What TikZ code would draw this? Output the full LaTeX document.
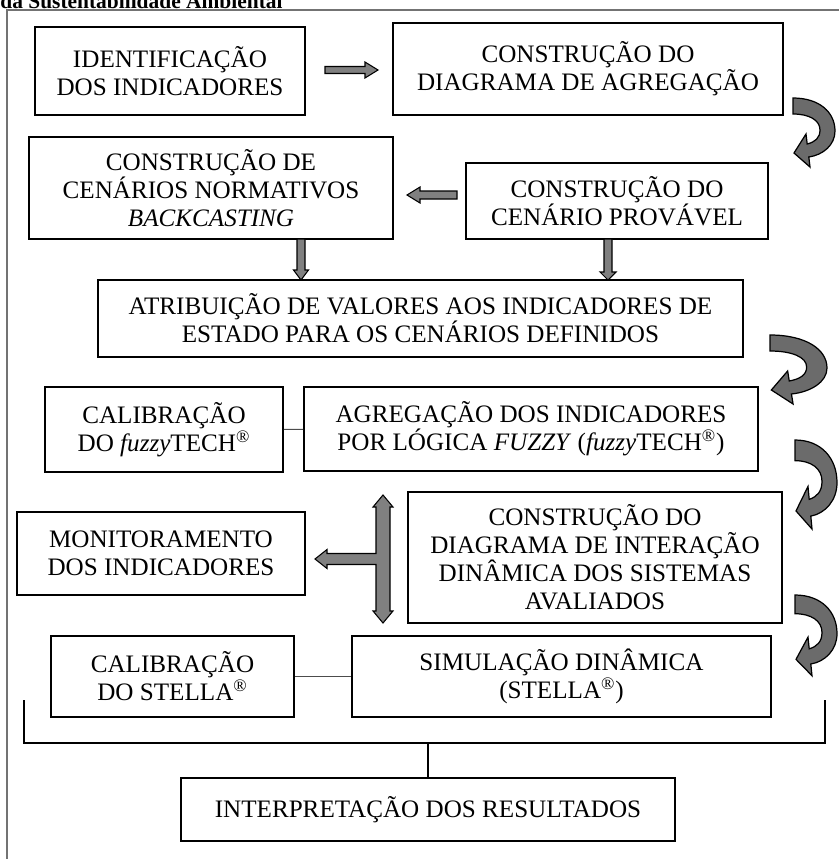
\documentclass[tikz,border=0pt]{standalone}
\usepackage{fontspec}
\setmainfont{Liberation Serif}

\begin{document}
\begin{tikzpicture}[
	x=0.02cm, y=-0.02cm,
	font=\fontsize{14.3}{16}\selectfont,
	box/.style={
		rectangle,
		draw,
		line width=1pt,
		align=center,
		inner sep=0pt,
	},
	link/.style={% thin lines between calibration boxes
		line width=0.5pt,
		draw=black!70,
	},
	blockarrow/.style={
		fill=black!50,
		draw=black,
		line width=0.6pt,
	},
	bendarrow/.style={
		fill=black!58,
		draw=black,
		line width=0.7pt,
	},
	bracket/.style={
		line width=1.6pt,
	},
	bend/.pic={
		\filldraw[bendarrow] (0,0) .. controls (26,0) and (42,14) .. (42,33)
			.. controls (42,47) and (30,57) .. (15.8,59) -- (17,69) -- (1,55) -- (13,36)
			-- (14.2,46) .. controls (22,44) and (27,40) .. (27,32)
			.. controls (27,22) and (16,16) .. (0,16) -- cycle;
	},
]
	\useasboundingbox (0,0) rectangle (839,859);

	% frame and title
	\node [anchor=base west, inner sep=0pt, font=\bfseries\fontsize{12.2}{14}\selectfont] (title) at (0,8) {da Sustentabilidade Ambiental};
	\draw [draw=black!55, line width=1pt] (7,859) -- (7,10) -- (839,10);

	\node [box, minimum width=5.4cm, minimum height=1.76cm] (ident) at (170,71) {IDENTIFICAÇÃO\\DOS INDICADORES};
	\node [box, minimum width=7.8cm, minimum height=1.84cm] (diag) at (588,69) {CONSTRUÇÃO DO\\DIAGRAMA DE AGREGAÇÃO};
	\node [box, minimum width=7.28cm, minimum height=2.04cm] (norm) at (211,188) {CONSTRUÇÃO DE\\CENÁRIOS NORMATIVOS\\\textit{BACKCASTING}};
	\node [box, minimum width=6.04cm, minimum height=1.52cm] (prov) at (617,201) {CONSTRUÇÃO DO\\CENÁRIO PROVÁVEL};
	\node [box, minimum width=12.9cm, minimum height=1.54cm] (atrib) at (420.5,318.5) {ATRIBUIÇÃO DE VALORES AOS INDICADORES DE\\ESTADO PARA OS CENÁRIOS DEFINIDOS};
	\node [box, minimum width=4.76cm, minimum height=1.7cm] (calfz) at (164,429.5) {CALIBRAÇÃO\\DO \textit{fuzzy}TECH\textsuperscript{®}};
	\node [box, minimum width=9.08cm, minimum height=1.68cm] (agreg) at (531,429) {AGREGAÇÃO DOS INDICADORES\\POR LÓGICA \textit{FUZZY} (\textit{fuzzy}TECH\textsuperscript{®})};
	\node [box, minimum width=5.76cm, minimum height=1.66cm] (monit) at (161,553.5) {MONITORAMENTO\\DOS INDICADORES};
	\node [box, minimum width=7.48cm, minimum height=2.62cm] (inter) at (595,557.5) {CONSTRUÇÃO DO\\DIAGRAMA DE INTERAÇÃO\\DINÂMICA DOS SISTEMAS\\AVALIADOS};
	\node [box, minimum width=4.86cm, minimum height=1.62cm] (calst) at (172.5,676.5) {CALIBRAÇÃO\\DO STELLA\textsuperscript{®}};
	\node [box, minimum width=8.38cm, minimum height=1.62cm] (simul) at (561.5,676.5) {SIMULAÇÃO DINÂMICA\\(STELLA\textsuperscript{®})};
	\node [box, minimum width=9.88cm, minimum height=1.26cm] (result) at (428,809.5) {INTERPRETAÇÃO DOS RESULTADOS};

	\draw [link] (calfz) -- (agreg);
	\draw [link] (calst) -- (simul);

	% block arrows
	\filldraw [blockarrow] (325,66.5) -- (365,66.5) -- (365,62) -- (378,70) -- (365,78) -- (365,73.5) -- (325,73.5) -- cycle;
	\filldraw [blockarrow] (457,191) -- (420,191) -- (420,187) -- (407,195) -- (420,203) -- (420,199) -- (457,199) -- cycle;
	\filldraw [blockarrow] (297,239) -- (305,239) -- (305,270) -- (308.5,270) -- (301,280) -- (293.5,270) -- (297,270) -- cycle;
	\filldraw [blockarrow] (604,239) -- (612,239) -- (612,272) -- (616,272) -- (608,280) -- (600,272) -- (604,272) -- cycle;
	\filldraw [blockarrow] (383,495) -- (393,507) -- (390,507) -- (390,611) -- (393,611) -- (383,623) -- (373,611) -- (376,611)
		-- (376,564.5) -- (327,564.5) -- (327,568.5) -- (315,559) -- (327,549.5) -- (327,553.5) -- (376,553.5)
		-- (376,507) -- (373,507) -- cycle;

	% curved arrows on the right
	\pic at (793,98) {bend};
	\pic [xscale=1.357] at (770,335) {bend};
	\pic [yscale=1.29] at (795,440) {bend};
	\pic [yscale=1.17] at (795,595) {bend};

	% bracket to the results
	\coordinate (bl) at (24,700);
	\coordinate (br) at (825,700);
	\draw [bracket] (bl) -- ++(0,43) -| (br);
	\draw [bracket] (result.north) -- ++(0,-35);
\end{tikzpicture}
\end{document}
